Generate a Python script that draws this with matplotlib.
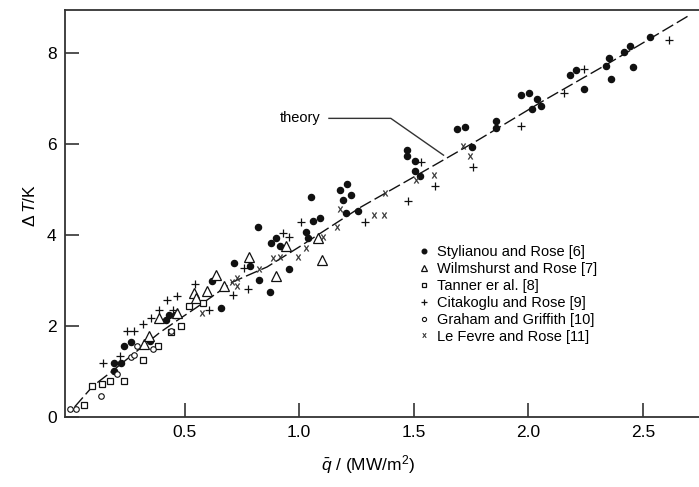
import matplotlib
matplotlib.use("Agg")
import matplotlib.pyplot as plt

plt.rcParams['font.family'] = ['Liberation Sans', 'DejaVu Sans']
plt.rcParams['mathtext.fontset'] = 'custom'
plt.rcParams['mathtext.rm'] = 'Liberation Sans'
plt.rcParams['mathtext.it'] = 'Liberation Sans:italic'

# data (q in MW/m2, dT in K)
theory_q = [0.02, 0.10, 0.18, 0.39, 0.47, 0.55, 0.71, 0.86, 1.00, 1.27, 1.49, 1.68, 1.78, 2.07, 2.35, 2.70]
theory_dT = [0.22, 0.68, 0.99, 1.85, 2.13, 2.40, 2.97, 3.30, 3.74, 4.62, 5.25, 5.80, 6.09, 6.97, 7.78, 8.83]

styl_q = [0.19, 0.19, 0.222, 0.236, 0.266, 0.35, 0.42, 0.43, 0.457, 0.62, 0.66, 0.717, 0.786, 0.82,
          0.826, 0.873, 0.877, 0.90, 0.915, 0.955, 1.03, 1.04, 1.05, 1.06, 1.09, 1.18, 1.21, 1.19,
          1.225, 1.205, 1.257, 1.47, 1.47, 1.507, 1.505, 1.526, 1.69, 1.725, 1.755, 1.858, 1.858,
          1.967, 2.003, 2.036, 2.017, 2.055, 2.181, 2.21, 2.242, 2.338, 2.352, 2.362, 2.416, 2.445,
          2.457, 2.53]
styl_dT = [1.00, 1.18, 1.18, 1.57, 1.65, 1.67, 2.13, 2.24, 2.24, 2.98, 2.39, 3.38, 3.31, 4.18,
           3.02, 2.74, 3.82, 3.93, 3.77, 3.25, 4.07, 3.93, 4.84, 4.31, 4.38, 4.99, 5.13, 4.77,
           4.89, 4.48, 4.53, 5.87, 5.74, 5.63, 5.41, 5.30, 6.34, 6.37, 5.94, 6.51, 6.35,
           7.08, 7.13, 7.00, 6.77, 6.84, 7.52, 7.64, 7.22, 7.72, 7.90, 7.44, 8.03, 8.16,
           7.70, 8.36]

wilm_q = [0.323, 0.345, 0.388, 0.466, 0.543, 0.55, 0.597, 0.635, 0.67, 0.783, 0.90, 0.942, 1.083, 1.10]
wilm_dT = [1.60, 1.77, 2.18, 2.28, 2.73, 2.62, 2.76, 3.12, 2.88, 3.52, 3.10, 3.76, 3.94, 3.45]

tann_q = [0.06, 0.096, 0.14, 0.176, 0.237, 0.317, 0.385, 0.44, 0.485, 0.52, 0.58]
tann_dT = [0.27, 0.68, 0.72, 0.78, 0.79, 1.26, 1.56, 1.87, 2.00, 2.45, 2.51]

cita_q = [0.142, 0.217, 0.25, 0.277, 0.32, 0.355, 0.39, 0.425, 0.467, 0.45, 0.545, 0.606, 0.71,
          0.775, 0.76, 0.93, 0.955, 1.01, 1.287, 1.475, 1.53, 1.594, 1.757, 1.968, 2.157, 2.243, 2.613]
cita_dT = [1.18, 1.35, 1.88, 1.88, 2.05, 2.17, 2.36, 2.57, 2.66, 2.35, 2.93, 2.36, 2.68,
           2.81, 3.28, 4.04, 3.95, 4.28, 4.29, 4.76, 5.61, 5.09, 5.49, 6.40, 7.13, 7.65, 8.29]

grah_q = [0.0, 0.025, 0.136, 0.205, 0.265, 0.28, 0.294, 0.36, 0.44]
grah_dT = [0.18, 0.17, 0.45, 0.95, 1.32, 1.37, 1.55, 1.50, 1.90]

lefe_q = [0.577, 0.707, 0.73, 0.73, 0.826, 0.885, 0.915, 0.995, 1.03, 1.105, 1.165, 1.18, 1.328,
          1.37, 1.374, 1.51, 1.587, 1.717, 1.746]
lefe_dT = [2.28, 2.96, 2.87, 3.05, 3.26, 3.50, 3.52, 3.52, 3.72, 3.95, 4.18, 4.57, 4.45,
           4.45, 4.93, 5.22, 5.32, 5.97, 5.74]

labels = ["Stylianou and Rose [6]", "Wilmshurst and Rose [7]", "Tanner er al. [8]",
          "Citakoglu and Rose [9]", "Graham and Griffith [10]", "Le Fevre and Rose [11]"]

# leader line for the "theory" label
lead_q = [1.13, 1.40, 1.63]
lead_dT = [6.57, 6.57, 5.76]

fig = plt.figure(figsize=(6.99, 4.87), dpi=100)
ax = fig.add_axes([0.093, 0.144, 0.907, 0.835])

ink = '#111111'
ax.plot(theory_q, theory_dT, color=ink, lw=1.0, dashes=(9, 3))
ax.plot(lead_q, lead_dT, color='#333333', lw=1.0)
ax.text(1.095, 6.57, "theory", ha='right', va='center', fontsize=10.5)

ax.plot(styl_q, styl_dT, 'o', ms=4.4, color=ink, ls='none', label=labels[0])
ax.plot(wilm_q, wilm_dT, '^', ms=6.5, mfc='white', mec=ink, mew=0.9, ls='none', label=labels[1])
ax.plot(tann_q, tann_dT, 's', ms=4.5, mfc='white', mec=ink, mew=0.9, ls='none', label=labels[2])
ax.plot(cita_q, cita_dT, '+', ms=5.5, color=ink, mew=0.9, ls='none', label=labels[3])
ax.plot(grah_q, grah_dT, 'o', ms=4.0, mfc='white', mec=ink, mew=0.8, ls='none', label=labels[4])
ax.plot(lefe_q, lefe_dT, marker='$\\mathrm{x}$', ms=4, color='#333333', mew=0.3,
        ls='none', label=labels[5])

ax.set_xlim(-0.022, 2.745)
ax.set_ylim(0, 8.95)
ax.set_xticks([0.5, 1.0, 1.5, 2.0, 2.5])
ax.set_xticklabels(["0.5", "1.0", "1.5", "2.0", "2.5"])
ax.set_yticks([0, 2, 4, 6, 8])
ax.tick_params(direction='in', length=10, width=1.2, color='#333333', labelsize=12.5, pad=6)
ax.spines['right'].set_visible(False)
for s in ['left', 'top', 'bottom']:
    ax.spines[s].set_linewidth(1.3)
    ax.spines[s].set_color('#333333')

ax.text(-0.055, 0.52, r'$\Delta\, T$/K', transform=ax.transAxes, rotation=90,
        ha='center', va='center', fontsize=12.5)
ax.text(0.478, -0.118, r'$\bar{q}$ / (MW/m$^2$)', transform=ax.transAxes,
        ha='center', va='center', fontsize=12.5)

leg = ax.legend(loc='upper left', bbox_to_anchor=(0.598, 0.497), bbox_transform=fig.transFigure,
                frameon=False, fontsize=10.5, handlelength=0.8, handletextpad=0.5,
                labelspacing=0.2, borderpad=0, borderaxespad=0, markerscale=0.75)

fig.savefig("out.png", dpi=100)
